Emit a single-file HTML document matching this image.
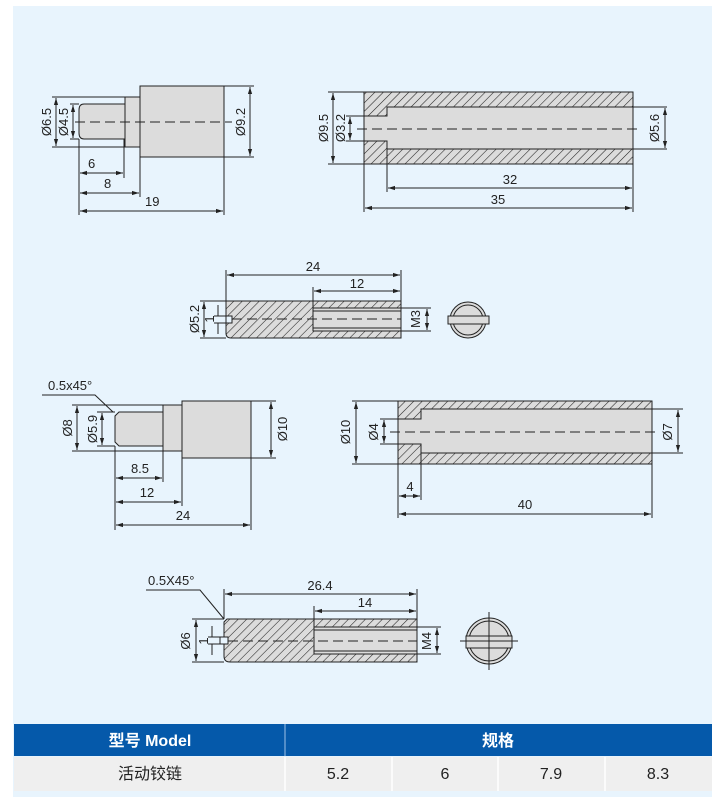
<!DOCTYPE html>
<html><head><meta charset="utf-8"><style>
html,body{margin:0;padding:0;background:#fff;}
svg{display:block;}
text{font-family:"Liberation Sans",Arial,sans-serif;font-size:13px;fill:#222;}
</style></head><body>
<svg width="712" height="797" viewBox="0 0 712 797" xmlns="http://www.w3.org/2000/svg">
<defs>
<pattern id="h" patternUnits="userSpaceOnUse" width="6" height="6" patternTransform="rotate(45)">
<rect width="6" height="6" fill="#dcdcdc"/><line x1="0" y1="0" x2="0" y2="6" stroke="#222" stroke-width="1.1"/>
</pattern>
<marker id="a" viewBox="0 0 10 10" refX="10" refY="5" markerWidth="7" markerHeight="7" orient="auto-start-reverse"><path d="M0,2 L10,5 L0,8 z" fill="#222"/></marker>
</defs>
<rect x="13" y="6" width="699" height="791" fill="#e8f4fd"/>
<g stroke="#222" stroke-width="1" fill="none">
<!-- Drawing 1 -->
<path d="M125,104 H84 Q79,104 79,110 V133 Q79,139 84,139 H125 Z" fill="#dcdcdc"/>
<rect x="125" y="97" width="15" height="50" fill="#dcdcdc"/>
<rect x="140" y="86" width="84" height="71" fill="#dcdcdc"/>
<line x1="75" y1="122" x2="232" y2="122" stroke-dasharray="10,5"/>
<path d="M52,97H125M52,147H125M70,104H79M70,139H79M224,86H254M224,157H254"/>
<line x1="56" y1="98" x2="56" y2="146" marker-start="url(#a)" marker-end="url(#a)"/>
<line x1="73" y1="105" x2="73" y2="138" marker-start="url(#a)" marker-end="url(#a)"/>
<line x1="250" y1="87" x2="250" y2="156" marker-start="url(#a)" marker-end="url(#a)"/>
<path d="M79,139V215M124,139V178M140,147V197M224,157V215"/>
<line x1="80" y1="173" x2="123" y2="173" marker-start="url(#a)" marker-end="url(#a)"/>
<line x1="80" y1="193" x2="139" y2="193" marker-start="url(#a)" marker-end="url(#a)"/>
<line x1="80" y1="211" x2="223" y2="211" marker-start="url(#a)" marker-end="url(#a)"/>
<!-- Drawing 2 -->
<rect x="364" y="92" width="269" height="72" fill="url(#h)"/>
<path d="M633,107H387V116H364V141H387V149H633Z" fill="#dcdcdc"/>
<line x1="357" y1="129" x2="640" y2="129" stroke-dasharray="10,5"/>
<path d="M328,92H364M328,164H364M346,116H364M346,141H364M633,107H667M633,149H667"/>
<line x1="333" y1="93" x2="333" y2="163" marker-start="url(#a)" marker-end="url(#a)"/>
<line x1="350" y1="117" x2="350" y2="140" marker-start="url(#a)" marker-end="url(#a)"/>
<line x1="665" y1="108" x2="665" y2="148" marker-start="url(#a)" marker-end="url(#a)"/>
<path d="M387,149V192M364,164V212M633,164V212"/>
<line x1="388" y1="188" x2="632" y2="188" marker-start="url(#a)" marker-end="url(#a)"/>
<line x1="365" y1="208" x2="632" y2="208" marker-start="url(#a)" marker-end="url(#a)"/>
<!-- Drawing 3 -->
<path d="M226,301H401V338H231Q226,338 226,333Z" fill="url(#h)"/>
<rect x="313" y="308" width="88" height="23" fill="#dcdcdc"/>
<path d="M313,311H401M313,328H401"/>
<rect x="226" y="316" width="6" height="7" fill="#e8f4fd"/>
<line x1="232" y1="319" x2="401" y2="319" stroke-dasharray="10,5"/>
<path d="M200,301H226M200,338H226M214,316H226M214,323H226M401,308H431M401,331H431"/>
<line x1="204" y1="302" x2="204" y2="337" marker-start="url(#a)" marker-end="url(#a)"/>
<path d="M218,305V316M218,323V334"/>
<line x1="427" y1="309" x2="427" y2="330" marker-start="url(#a)" marker-end="url(#a)"/>
<path d="M226,270V301M401,270V301M313,287V308"/>
<line x1="227" y1="275" x2="400" y2="275" marker-start="url(#a)" marker-end="url(#a)"/>
<line x1="314" y1="291" x2="400" y2="291" marker-start="url(#a)" marker-end="url(#a)"/>
<circle cx="468" cy="320" r="18" fill="#dcdcdc"/>
<circle cx="468" cy="320" r="15"/>
<rect x="448" y="316" width="41" height="8" fill="#dcdcdc"/>
<!-- Drawing 4 -->
<path d="M163,412H119L115,416V442L119,446H163Z" fill="#dcdcdc"/>
<rect x="163" y="405" width="19" height="46" fill="#dcdcdc"/>
<rect x="182" y="401" width="69" height="57" fill="#dcdcdc"/>
<path d="M72,405H163M72,451H163M97,412H115M97,446H115M251,401H276M251,458H276"/>
<line x1="77" y1="406" x2="77" y2="450" marker-start="url(#a)" marker-end="url(#a)"/>
<line x1="102" y1="413" x2="102" y2="445" marker-start="url(#a)" marker-end="url(#a)"/>
<line x1="271" y1="402" x2="271" y2="457" marker-start="url(#a)" marker-end="url(#a)"/>
<path d="M42,395H95L113,412"/>
<path d="M115,446V530M163,446V482M182,451V506M251,458V530"/>
<line x1="116" y1="478" x2="162" y2="478" marker-start="url(#a)" marker-end="url(#a)"/>
<line x1="116" y1="502" x2="181" y2="502" marker-start="url(#a)" marker-end="url(#a)"/>
<line x1="116" y1="525" x2="250" y2="525" marker-start="url(#a)" marker-end="url(#a)"/>
<!-- Drawing 5 -->
<rect x="398" y="401" width="254" height="63" fill="url(#h)"/>
<path d="M652,409H421V419H398V444H421V453H652Z" fill="#dcdcdc"/>
<line x1="390" y1="432" x2="660" y2="432" stroke-dasharray="10,5"/>
<path d="M352,401H398M352,464H398M380,419H398M380,444H398M652,409H683M652,453H683"/>
<line x1="356" y1="402" x2="356" y2="463" marker-start="url(#a)" marker-end="url(#a)"/>
<line x1="384" y1="420" x2="384" y2="443" marker-start="url(#a)" marker-end="url(#a)"/>
<line x1="678" y1="410" x2="678" y2="452" marker-start="url(#a)" marker-end="url(#a)"/>
<path d="M398,464V518M421,453V500M652,464V518"/>
<line x1="399" y1="496" x2="420" y2="496" marker-start="url(#a)" marker-end="url(#a)"/>
<line x1="399" y1="514" x2="651" y2="514" marker-start="url(#a)" marker-end="url(#a)"/>
<!-- Drawing 6 -->
<path d="M227,619H417V662H230Q224,662 224,656V622Z" fill="url(#h)"/>
<rect x="314" y="627" width="103" height="27" fill="#dcdcdc"/>
<path d="M314,630H417M314,651H417"/>
<rect x="220" y="637" width="8" height="7" fill="#e8f4fd"/>
<line x1="228" y1="641" x2="417" y2="641" stroke-dasharray="10,5"/>
<path d="M192,619H224M192,662H224M208,637H220M208,644H220M417,627H441M417,654H441"/>
<line x1="196" y1="620" x2="196" y2="661" marker-start="url(#a)" marker-end="url(#a)"/>
<path d="M212,626V637M212,644V655"/>
<line x1="437" y1="628" x2="437" y2="653" marker-start="url(#a)" marker-end="url(#a)"/>
<path d="M224,589V619M417,589V627M314,606V627"/>
<line x1="225" y1="594" x2="416" y2="594" marker-start="url(#a)" marker-end="url(#a)"/>
<line x1="315" y1="611" x2="416" y2="611" marker-start="url(#a)" marker-end="url(#a)"/>
<path d="M146,590H200L224,619"/>
<circle cx="489" cy="641" r="23" fill="#dcdcdc"/>
<circle cx="489" cy="641" r="20"/>
<rect x="466" y="636" width="46" height="12" fill="#dcdcdc"/>
<path d="M489,612V670M460,641H518"/>
</g>
<g>
<text x="88" y="168">6</text><text x="104" y="188">8</text><text x="145" y="206">19</text>
<text transform="translate(51,122) rotate(-90)" text-anchor="middle">Ø6.5</text>
<text transform="translate(68,122) rotate(-90)" text-anchor="middle">Ø4.5</text>
<text transform="translate(245,122) rotate(-90)" text-anchor="middle">Ø9.2</text>
<text x="510" y="184" text-anchor="middle">32</text><text x="498" y="204" text-anchor="middle">35</text>
<text transform="translate(328,128) rotate(-90)" text-anchor="middle">Ø9.5</text>
<text transform="translate(345,128) rotate(-90)" text-anchor="middle">Ø3.2</text>
<text transform="translate(659,128) rotate(-90)" text-anchor="middle">Ø5.6</text>
<text x="313" y="271" text-anchor="middle">24</text><text x="357" y="288" text-anchor="middle">12</text>
<text transform="translate(199,319) rotate(-90)" text-anchor="middle">Ø5.2</text>
<text transform="translate(214,319) rotate(-90)" text-anchor="middle">1</text>
<text transform="translate(420,319) rotate(-90)" text-anchor="middle">M3</text>
<text x="48" y="390">0.5x45°</text>
<text x="140" y="473" text-anchor="middle">8.5</text><text x="147" y="497" text-anchor="middle">12</text><text x="183" y="520" text-anchor="middle">24</text>
<text transform="translate(72,428) rotate(-90)" text-anchor="middle">Ø8</text>
<text transform="translate(97,429) rotate(-90)" text-anchor="middle">Ø5.9</text>
<text transform="translate(287,429) rotate(-90)" text-anchor="middle">Ø10</text>
<text x="410" y="491" text-anchor="middle">4</text><text x="525" y="509" text-anchor="middle">40</text>
<text transform="translate(350,432) rotate(-90)" text-anchor="middle">Ø10</text>
<text transform="translate(378,432) rotate(-90)" text-anchor="middle">Ø4</text>
<text transform="translate(672,432) rotate(-90)" text-anchor="middle">Ø7</text>
<text x="148" y="585">0.5X45°</text>
<text x="320" y="590" text-anchor="middle">26.4</text><text x="365" y="607" text-anchor="middle">14</text>
<text transform="translate(190,641) rotate(-90)" text-anchor="middle">Ø6</text>
<text transform="translate(208,641) rotate(-90)" text-anchor="middle">1</text>
<text transform="translate(431,641) rotate(-90)" text-anchor="middle">M4</text>
</g>
<!-- Table -->
<rect x="14" y="724" width="698" height="32" fill="#0559aa"/>
<line x1="285" y1="724" x2="285" y2="756" stroke="#6d9fd2" stroke-width="1.5"/>
<rect x="14" y="757" width="698" height="34" fill="#efefef"/>
<path d="M285,757V791M392,757V791M498,757V791M605,757V791" stroke="#fff" stroke-width="1.5"/>
<text x="150" y="746" text-anchor="middle" style="fill:#fff;font-weight:bold;font-family:'Liberation Sans','Noto Sans CJK SC',sans-serif;font-size:16px;">型号 Model</text>
<text x="498" y="746" text-anchor="middle" style="fill:#fff;font-weight:bold;font-family:'Liberation Sans','Noto Sans CJK SC',sans-serif;font-size:16px;">规格</text>
<text x="150" y="779" text-anchor="middle" style="font-family:'Liberation Sans','Noto Sans CJK SC',sans-serif;font-size:16px;">活动铰链</text>
<text x="338" y="779" text-anchor="middle" style="font-size:16px;">5.2</text>
<text x="445" y="779" text-anchor="middle" style="font-size:16px;">6</text>
<text x="551" y="779" text-anchor="middle" style="font-size:16px;">7.9</text>
<text x="658" y="779" text-anchor="middle" style="font-size:16px;">8.3</text>
</svg>
</body></html>
